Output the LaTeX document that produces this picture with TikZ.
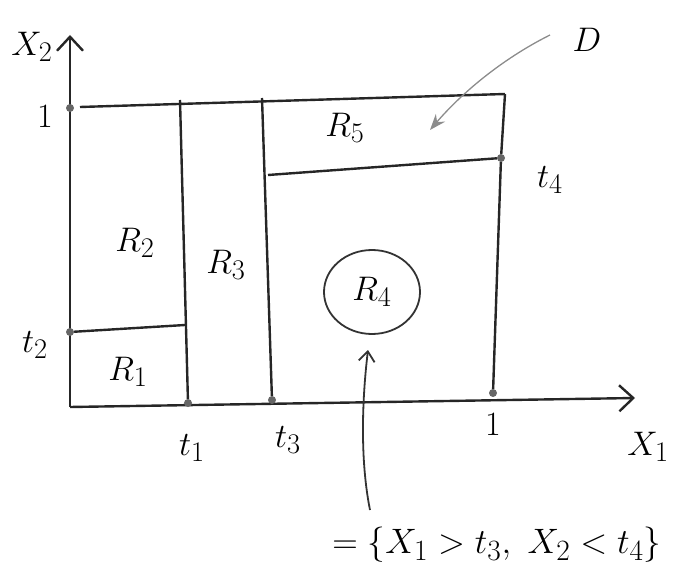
\documentclass[tikz,border=0pt]{standalone}
\usetikzlibrary{arrows.meta}
\begin{document}
\begin{tikzpicture}[x=1pt,y=-1pt,
  ink/.style={line width=2.4pt,black!85},
  dot/.style={circle,fill=black!60,inner sep=0pt,minimum size=8pt},
  lbl/.style={font=\Huge,scale=1.37},
  ax/.style={ink,-{Straight Barb[length=14pt,width=26pt,line width=2.4pt]}}]
\useasboundingbox (0,0) rectangle (685,585);
% axes
\coordinate (O) at (70,407);
\coordinate (Ytip) at (70,35);
\coordinate (Xtip) at (635,398);
\draw[ax] (O) -- (Ytip);
\draw[ax] (O) -- (Xtip);
% points
\node[dot] (p1y) at (70,108) {};
\node[dot] (pt2) at (70,332) {};
\node[dot] (pt1) at (188,403) {};
\node[dot] (pt3) at (272,400) {};
\node[dot] (p1x) at (493,393) {};
\node[dot] (pt4) at (501,158) {};
\coordinate (TL) at (80,107);
\coordinate (TR) at (505,94);
\coordinate (t1top) at (180,100);
\coordinate (t3top) at (262,98);
\coordinate (t2end) at (185,325);
\coordinate (t4start) at (268,175);
% box
\draw[ink] (TL) -- (TR);
\draw[ink] (TR) -- (pt4) -- (p1x);
\draw[ink] (t1top) -- (pt1);
\draw[ink] (t3top) -- (pt3);
\draw[ink] (pt2) -- (t2end);
\draw[ink] (t4start) -- (pt4);
% labels
\node[lbl] (l1y) at (45,117) {$1$};
\node[lbl] (lt2) at (35,345) {$t_2$};
\node[lbl] (lt1) at (192,448) {$t_1$};
\node[lbl] (lt3) at (288,440) {$t_3$};
\node[lbl] (l1x) at (493,425) {$1$};
\node[lbl] (lt4) at (550,180) {$t_4$};
\node[lbl] (lX1) at (648,447) {$X_1$};
\node[lbl] (lX2) at (32,47) {$X_2$};
\node[lbl] (R1) at (128,372) {$R_1$};
\node[lbl] (R2) at (135,243) {$R_2$};
\node[lbl] (R3) at (226,265) {$R_3$};
\node[lbl] (R5) at (345,128) {$R_5$};
\node[lbl] (R4) at (372,292) {$R_4$};
\draw[line width=1.8pt,black!80] (R4) ellipse (48 and 42);
\node[lbl] (D) at (587,40) {$D$};
\coordinate (Dtail) at (550,35);
\coordinate (Dhead) at (430,130);
\draw[line width=1.3pt,black!45,-{Stealth[length=16pt,width=12pt]}] (Dtail) .. controls (500,60) and (460,95) .. (Dhead);
% R4 description
\node[font=\Huge,scale=1.42] (set) at (497,545) {$=\{X_1>t_3,\ X_2<t_4\}$};
\coordinate (A) at (370,510);
\coordinate (B) at (368,350);
\draw[line width=1.8pt,black!80,-{Straight Barb[length=10pt,width=16pt,line width=1.8pt]}] (A) .. controls (360,460) and (362,400) .. (B);
\end{tikzpicture}
\end{document}
